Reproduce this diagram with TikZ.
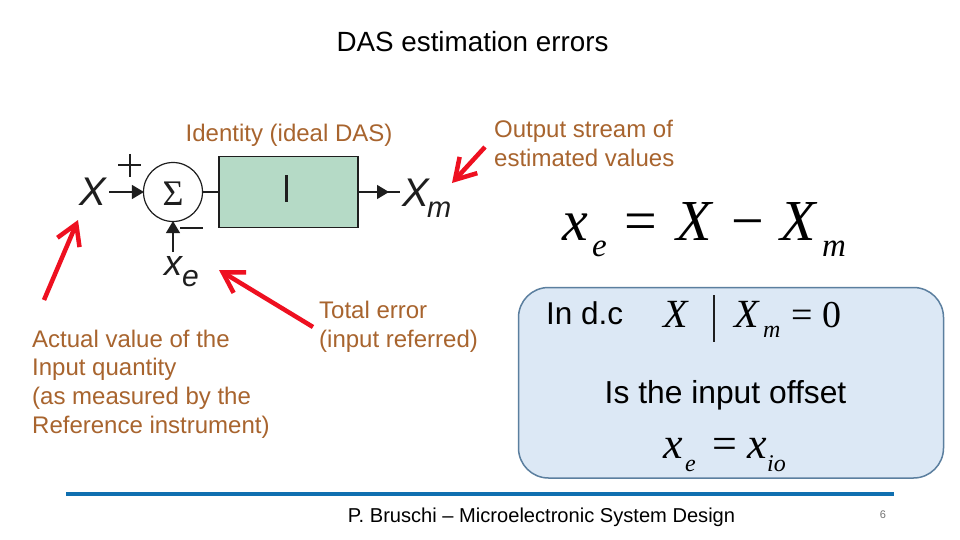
\documentclass[tikz,border=0pt]{standalone}
\usepackage{fontspec}
\setmainfont{Liberation Sans}
\newfontfamily\timesf{Liberation Serif}
\usetikzlibrary{arrows.meta}
\definecolor{lab}{HTML}{A8642E}
\definecolor{arrowred}{HTML}{EE1020}
\definecolor{boxfill}{HTML}{DCE8F5}
\definecolor{boxline}{HTML}{5B7F9F}
\definecolor{blockfill}{HTML}{B5DAC6}
\definecolor{rule}{HTML}{0F6FB0}
\definecolor{ink}{HTML}{1E1E1E}
\tikzset{
 x=1pt,y=-1pt,
 lbl/.style={inner sep=0pt,anchor=base west,align=left,font=\fontsize{24}{28.7}\selectfont,text=lab},
 blk/.style={inner sep=0pt,anchor=base,text=black,font=\fontsize{#1}{#1}\selectfont},
 redarrow/.style={draw=arrowred,line width=#1,-{Straight Barb[length=20pt,width=24pt,line width=#1]}},
 wire/.style={draw=ink,line width=1.3pt},
 wiretip/.style={wire,-{Triangle[length=12pt,width=14pt]},shorten >=-1pt},
 ital/.style={inner sep=0pt,anchor=base west,text=ink,font=\fontsize{#1}{#1}\selectfont\itshape},
 serifm/.style={inner sep=0pt,anchor=base west,text=black,font=\timesf\fontsize{#1}{#1}\selectfont\itshape},
 serifr/.style={inner sep=0pt,anchor=base west,text=black,font=\timesf\fontsize{#1}{#1}\selectfont},
}
\begin{document}
\begin{tikzpicture}
\useasboundingbox (0,0) rectangle (960,540);
\fill[white] (0,0) rectangle (960,540);

\node[blk=27.8] (title) at (472.5,51.2) {DAS estimation errors};
\node[lbl] (ident) at (185.5,141.2) {Identity (ideal DAS)};
\node[lbl] (outp) at (494,166.3) {Output stream of\\estimated values};
\node[lbl] (totl) at (319,347.3) {Total error\\(input referred)};
\node[lbl] (actl) at (32,433.3) {Actual value of the\\Input quantity\\(as measured by the\\Reference instrument)};

% block diagram
\node[draw=ink,line width=1.2pt,fill=blockfill,minimum width=139pt,minimum height=71pt,inner sep=0pt] (blk) at (288.5,192) {};
\node[inner sep=0pt,fill=ink,minimum width=3.2pt,minimum height=27pt] (iglyph) at (286.5,188.5) {};
\node[draw=ink,line width=1.2pt,circle,minimum size=59pt,inner sep=0pt] (sum) at (173,192) {};
\node[serifr=36,anchor=base,text=ink] (sigma) at (173,205) {Σ};
\node[ital=40] (xin) at (79,205) {X};
\node[ital=40] (xm) at (402,206) {X};
\node[ital=29] (xmsub) at (427,217) {m};
\node[ital=36] (xe) at (164,275) {x};
\node[ital=30] (xesub) at (182,286) {e};
\coordinate (xinr) at (109,192);
\coordinate (xmr) at (400,192);
\coordinate (xet) at (173,252);
\coordinate (midtip) at (388,192);
\draw[wiretip] (xinr) -- (sum.west);
\draw[wire] (sum.east) -- (blk.west);
\draw[wire] (blk.east) -- (xmr);
\draw[wiretip] (blk.east) -- (midtip);
\draw[wiretip] (xet) -- (sum.south);
\coordinate (pa) at (118,165); \coordinate (pb) at (141,165);
\coordinate (pc) at (130,154); \coordinate (pd) at (130,177);
\draw[line width=1.2pt,draw=ink] (pa) -- (pb) (pc) -- (pd);
\coordinate (ma) at (180,228); \coordinate (mb) at (203,228);
\draw[line width=1.2pt,draw=ink] (ma) -- (mb);

% red arrows
\coordinate (r1s) at (44,300); \coordinate (r1e) at (78,220);
\coordinate (r2s) at (313,327); \coordinate (r2e) at (219,270);
\coordinate (r3s) at (485,147); \coordinate (r3e) at (452,183);
\draw[redarrow=4.5pt] (r1s) -- (r1e);
\draw[redarrow=4.5pt] (r2s) -- (r2e);
\draw[redarrow=4.5pt] (r3s) -- (r3e);

% equation
\node[serifm=58] (e1) at (562,240) {x};
\node[serifm=33] (e2) at (592,256) {e};
\node[serifr=58] (e3) at (624,240) {=};
\node[serifm=58] (e4) at (676,240) {X};
\node[serifr=58] (e5) at (731,240) {\char"2212};
\node[serifm=58] (e6) at (780,240) {X};
\node[serifm=33] (e7) at (822,256) {m};

% light blue box
\draw[draw=boxline,line width=1.5pt,fill=boxfill,rounded corners=30pt] (518.5,287.5) rectangle (943.5,478);
\node[blk=31.5,anchor=base west] (indc) at (546,324.5) {In d.c};
\node[serifm=40] (f1) at (663,327) {X};
\coordinate (bt) at (714,295); \coordinate (bb) at (714,342);
\draw[line width=1.5pt,draw=ink] (bt) -- (bb);
\node[serifm=40] (f2) at (734,327) {X};
\node[serifm=24] (f3) at (763,337) {m};
\node[serifr=38] (f4) at (791,327) {= 0};
\node[blk=31.8] (offs) at (725.5,403.5) {Is the input offset};
\node[serifm=44] (g1) at (663,458) {x};
\node[serifm=24] (g2) at (685,471) {e};
\node[serifr=44] (g3) at (712,458) {=};
\node[serifm=44] (g4) at (747,458) {x};
\node[serifm=24] (g5) at (767,471) {io};

% footer
\coordinate (fl) at (66,494); \coordinate (fr) at (894,494);
\draw[draw=rule,line width=4pt] (fl) -- (fr);
\node[blk=20.1] (foot) at (541.5,522) {P. Bruschi -- Microelectronic System Design};
\node[blk=11,text=black!55] (pg) at (883,518) {6};
\end{tikzpicture}
\end{document}
